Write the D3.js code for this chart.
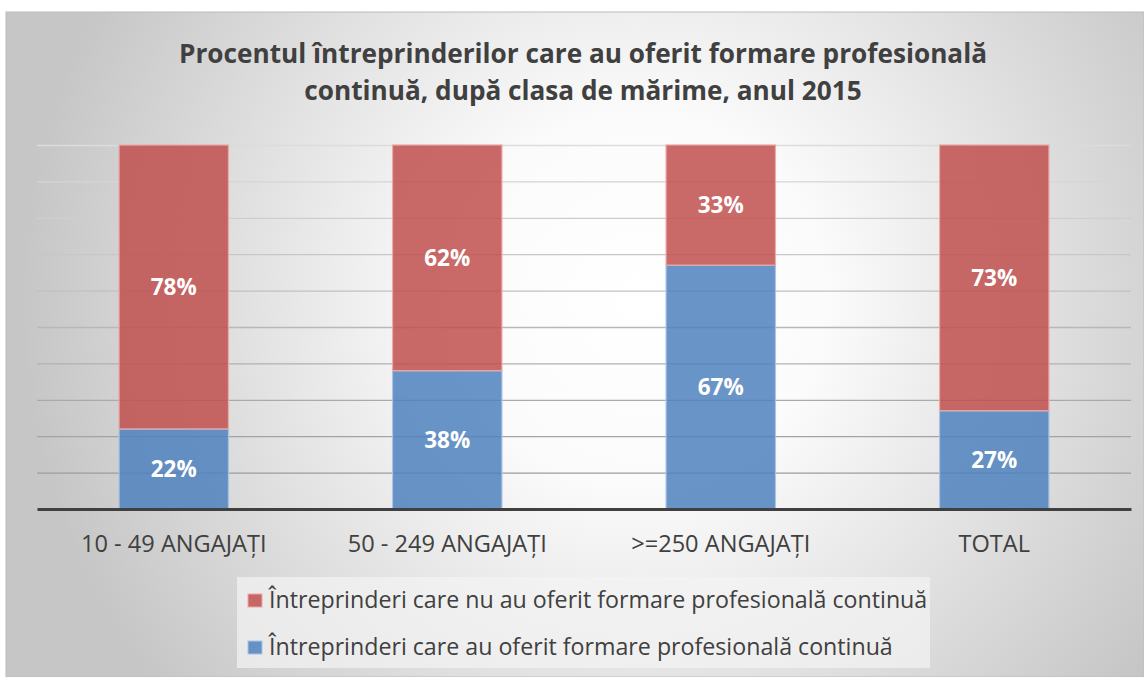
<!DOCTYPE html>
<html>
<head>
<meta charset="utf-8">
<script src="https://cdn.jsdelivr.net/npm/d3@7"></script>
<style>
  body { margin: 0; background: #fff; }
  svg { display: block; }
</style>
</head>
<body>
<svg id="chart" width="1144" height="677"></svg>
<script>
// data
const categories = ["10 - 49 ANGAJAȚI", "50 - 249 ANGAJAȚI", ">=250 ANGAJAȚI", "TOTAL"];
const offered = [22, 38, 67, 27];      // au oferit
const notOffered = [78, 62, 33, 73];   // nu au oferit
const seriesNames = [
    "Întreprinderi care nu au oferit formare profesională continuă",
    "Întreprinderi care au oferit formare profesională continuă"
];
const titleLines = [
    "Procentul întreprinderilor care au oferit formare profesională",
    "continuă, după clasa de mărime, anul 2015"
];
const gridTicks = d3.range(0, 101, 10);

const RED = "#c0504d", BLUE = "#4f81bd";
const FONT = "'Open Sans', sans-serif";

const svg = d3.select("#chart");
const W = 1144, H = 677;
const plot = {left: 37, right: 1131, top: 145, bottom: 509};

// background panel with radial gradient
const defs = svg.append("defs");
const rg = defs.append("radialGradient")
    .attr("id", "bg")
    .attr("gradientUnits", "userSpaceOnUse")
    .attr("cx", 640).attr("cy", 300).attr("r", 620);
rg.append("stop").attr("offset", "0").attr("stop-color", "#ffffff");
rg.append("stop").attr("offset", "0.3").attr("stop-color", "#fbfbfb");
rg.append("stop").attr("offset", "1").attr("stop-color", "#c6c6c6");

svg.append("rect")
    .attr("x", 6).attr("y", 12)
    .attr("width", W - 6).attr("height", H - 12)
    .attr("fill", "url(#bg)")
    .attr("stroke", "#bcbcbc")
    .attr("stroke-width", 1);

// title
svg.append("text")
    .attr("x", 583).attr("y", 63)
    .attr("text-anchor", "middle")
    .attr("font-family", FONT)
    .attr("font-weight", "bold")
    .attr("font-size", 26.2)
    .attr("fill", "#404040")
    .selectAll("tspan")
    .data(titleLines)
    .join("tspan")
    .attr("x", 583)
    .attr("dy", (d, i) => i == 0 ? 0 : 37)
    .text(d => d);

// scales
const x = d3.scaleBand()
    .domain(categories)
    .range([plot.left, plot.right])
    .paddingInner(0.6)
    .paddingOuter(0.3);
const y = d3.scaleLinear()
    .domain([0, 100])
    .range([plot.bottom, plot.top]);

// gridlines, lighter towards the top
const gridColor = d3.scaleLinear().domain([100, 10]).range(["#dcdcdc", "#9c9c9c"]);
const yAxis = d3.axisLeft(y)
    .tickValues(gridTicks.filter(t => t > 0))
    .tickSize(-(plot.right - plot.left))
    .tickFormat("");
const gy = svg.append("g")
    .attr("transform", `translate(${plot.left},0)`)
    .call(yAxis);
gy.select(".domain").remove();
gy.selectAll(".tick line")
    .attr("stroke", d => gridColor(d))
    .attr("stroke-width", 1.3);

// stacked bars
const rows = categories.map((c, i) => ({cat: c, offered: offered[i], notOffered: notOffered[i]}));
const stack = d3.stack().keys(["offered", "notOffered"]);
const layers = stack(rows);
const colors = {offered: BLUE, notOffered: RED};
const edge = {offered: "#a9c3e4", notOffered: "#eba9a7"};

const layerG = svg.append("g").selectAll("g")
    .data(layers)
    .join("g");

layerG.selectAll("rect")
    .data(d => d.map(p => ({key: d.key, p: p})))
    .join("rect")
    .attr("x", d => x(d.p.data.cat))
    .attr("width", x.bandwidth())
    .attr("y", d => y(d.p[1]))
    .attr("height", d => y(d.p[0]) - y(d.p[1]))
    .attr("fill", d => colors[d.key])
    .attr("fill-opacity", 0.85)
    .attr("stroke", d => edge[d.key])
    .attr("stroke-width", 1.2);

layerG.selectAll("text")
    .data(d => d.map(p => ({key: d.key, p: p})))
    .join("text")
    .attr("x", d => x(d.p.data.cat) + x.bandwidth() / 2)
    .attr("y", d => (y(d.p[0]) + y(d.p[1])) / 2 + 8)
    .attr("text-anchor", "middle")
    .attr("font-family", FONT)
    .attr("font-weight", "bold")
    .attr("font-size", 22.5)
    .attr("fill", "#ffffff")
    .text(d => (d.p[1] - d.p[0]) + "%");

// x axis
const gx = svg.append("g")
    .attr("transform", `translate(0,${plot.bottom})`)
    .call(d3.axisBottom(x).tickSize(0).tickPadding(26));
gx.select(".domain")
    .attr("stroke", "#404040")
    .attr("stroke-width", 3);
gx.selectAll(".tick text")
    .attr("font-family", FONT)
    .attr("font-size", 23.6)
    .attr("fill", "#404040");

// legend
const legendG = svg.append("g");
legendG.append("rect")
    .attr("x", 237).attr("y", 577)
    .attr("width", 693).attr("height", 91)
    .attr("fill", "#f4f4f4")
    .attr("fill-opacity", 0.7);
const legendItems = [
    {name: seriesNames[0], color: RED},
    {name: seriesNames[1], color: BLUE}
];
const li = legendG.selectAll("g.item")
    .data(legendItems)
    .join("g")
    .attr("class", "item")
    .attr("transform", (d, i) => `translate(248,${594 + i * 47})`);
li.append("rect")
    .attr("width", 14).attr("height", 13)
    .attr("fill", d => d.color)
    .attr("fill-opacity", 0.85)
    .attr("stroke", d => d.color === RED ? "#eba9a7" : "#a9c3e4")
    .attr("stroke-width", 1);
li.append("text")
    .attr("x", 21).attr("y", 13.5)
    .attr("font-family", FONT)
    .attr("font-size", 23.2)
    .attr("fill", "#404040")
    .text(d => d.name);
</script>
</body>
</html>
